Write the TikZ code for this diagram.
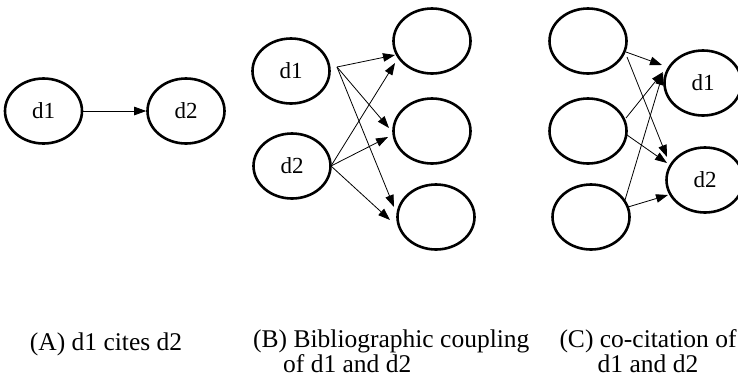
\documentclass[tikz,border=0pt]{standalone}
\usepackage{fontspec}
\setmainfont{Liberation Serif}
\usetikzlibrary{shapes.geometric,arrows.meta,calc}
\tikzset{
  doc/.style={ellipse,draw,line width=2.6pt,minimum width=77pt,minimum height=65pt,inner sep=0pt,font=\fontsize{23}{25}\selectfont},
  arr/.style={line width=0.8pt,-{Triangle[length=12pt,width=8.5pt]}},
  captext/.style={font=\fontsize{25.5}{22.5}\selectfont,inner sep=0pt}
}
\begin{document}
\begin{tikzpicture}[x=1pt,y=-1pt]
\useasboundingbox (0,0) rectangle (738,376);
% Panel A
\node[doc] (a1) at (43.5,111) {d1};
\node[doc] (a2) at (186,111) {d2};
\draw[arr] (a1) -- (a2);
% Panel B
\node[doc] (b1) at (291,71) {d1};
\node[doc] (b2) at (292,166) {d2};
\node[doc] (bt) at (432,41) {};
\node[doc] (bm) at (432,131) {};
\node[doc] (bb) at (436,217) {};
\draw[arr] ($(b1)+(46,-4)$) -- ($(bt)+(-37,14)$);
\draw[arr] ($(b1)+(46,-4)$) -- ($(bm)+(-43,-3)$);
\draw[arr] ($(b1)+(46,-4)$) -- ($(bb)+(-42,-10)$);
\draw[arr] ($(b2)+(39,0)$) -- ($(bt)+(-37,22)$);
\draw[arr] ($(b2)+(39,0)$) -- ($(bm)+(-44,6)$);
\draw[arr] ($(b2)+(39,0)$) -- ($(bb)+(-46,3)$);
% Panel C
\node[doc] (c1) at (588,41) {};
\node[doc] (c2) at (588,131) {};
\node[doc] (c3) at (591,217) {};
\node[doc] (cd1) at (703,83) {d1};
\node[doc] (cd2) at (705,180) {d2};
\draw[arr] ($(c1)+(38,11)$) -- ($(cd1)+(-41,-18)$);
\draw[arr] ($(c1)+(39,16)$) -- ($(cd2)+(-38,-23)$);
\draw[arr] ($(c2)+(38,-13)$) -- ($(cd1)+(-40,-11)$);
\draw[arr] ($(c2)+(39,4)$) -- ($(cd2)+(-38,-17)$);
\draw[arr] ($(c3)+(34,-17)$) -- ($(cd1)+(-40,-10)$);
\draw[arr] ($(c3)+(37,-10)$) -- ($(cd2)+(-37,15)$);
% Captions
\node[captext,anchor=base] (capA) at (106,350) {(A) d1 cites d2};
\node[captext,anchor=base west,align=left] (capB) at (253,372) {(B) Bibliographic coupling\\\hspace*{30pt}of d1 and d2};
\node[captext,anchor=base,align=center] (capC) at (648,372) {(C) co-citation of\\d1 and d2};
\end{tikzpicture}
\end{document}
